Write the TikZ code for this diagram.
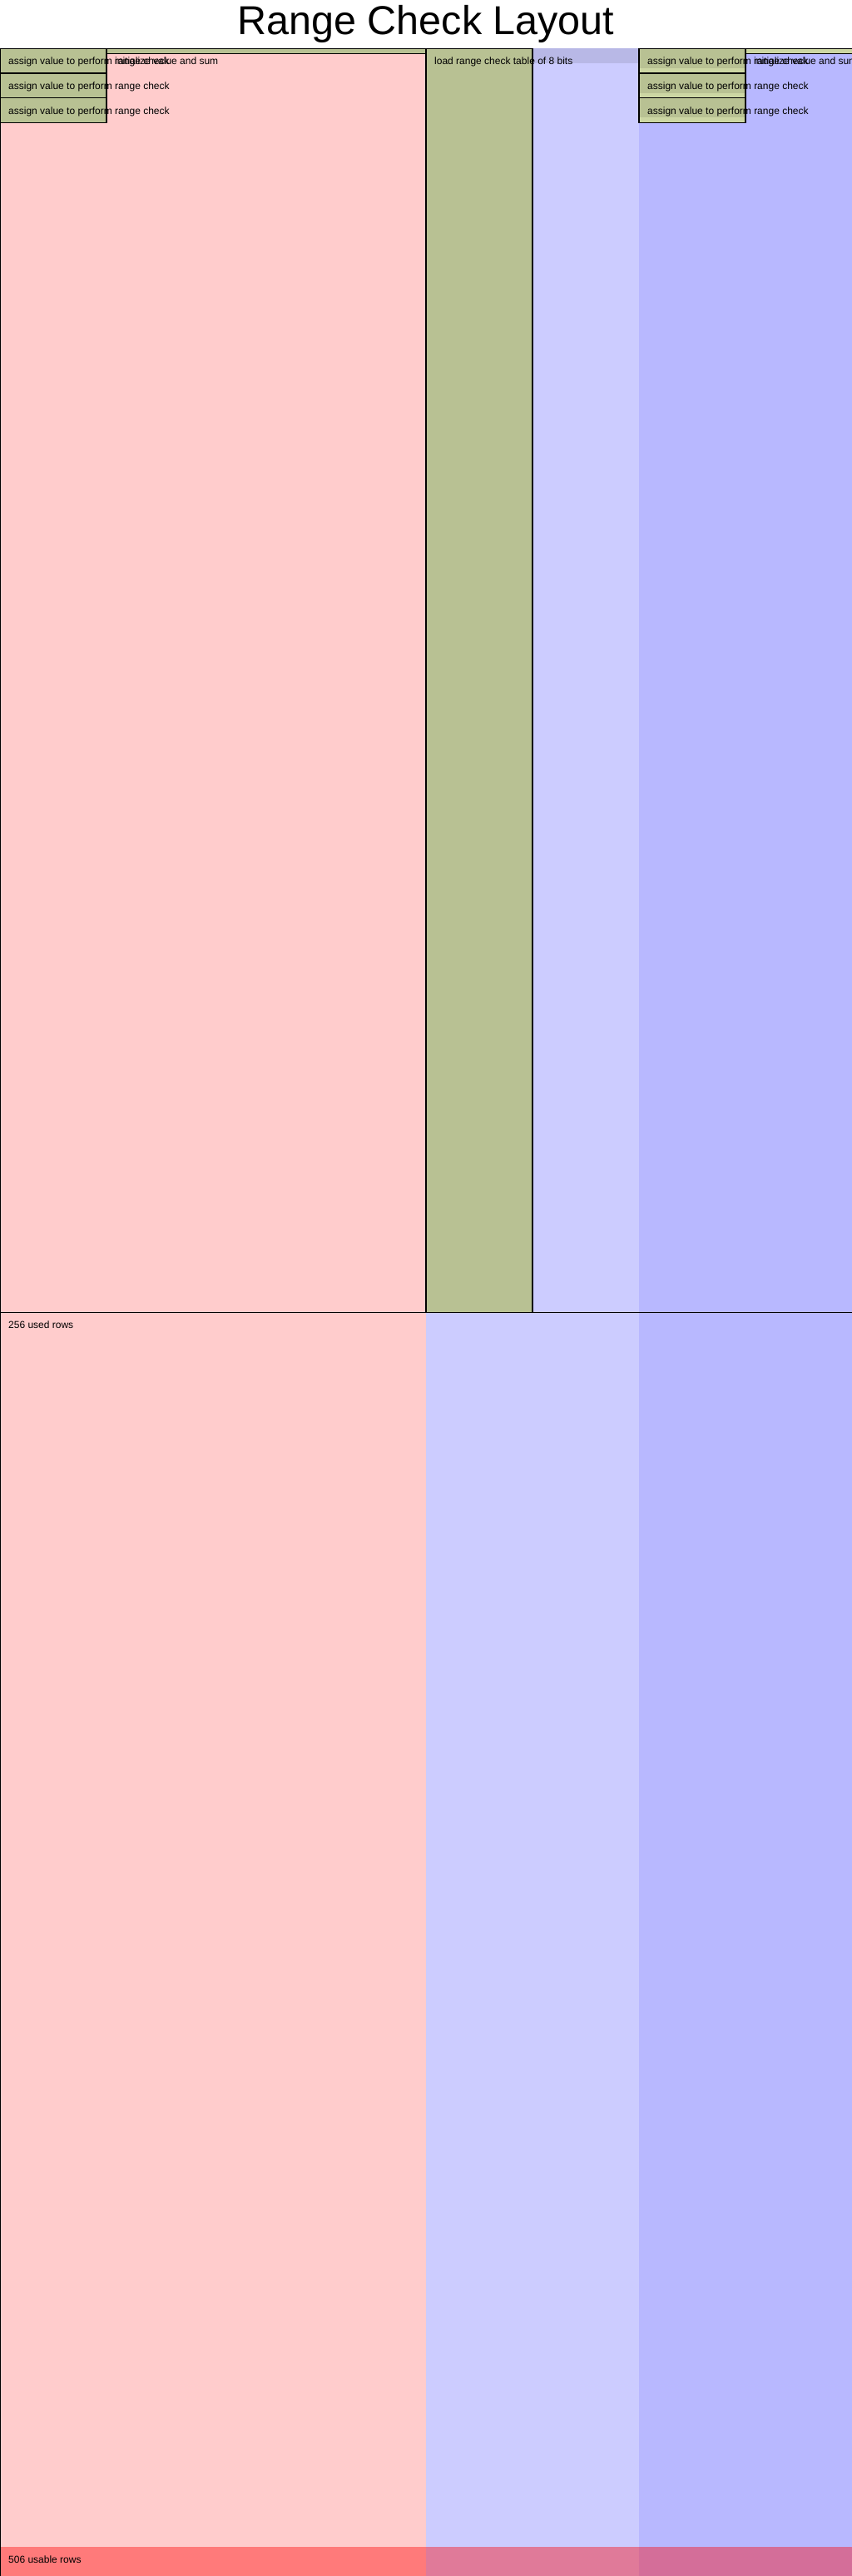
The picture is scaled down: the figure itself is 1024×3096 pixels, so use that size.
\documentclass[tikz,border=0pt]{standalone}
\usepackage{fontspec}
\setmainfont{Liberation Sans}
\definecolor{advbg}{RGB}{255,204,204}
\definecolor{fixbg}{RGB}{204,204,255}
\definecolor{selbg}{RGB}{184,184,255}
\definecolor{advred}{RGB}{255,122,122}
\definecolor{fixred}{RGB}{224,122,153}
\definecolor{selred}{RGB}{212,110,153}
\definecolor{regfill}{RGB}{204,214,163}
\definecolor{cellfill}{RGB}{184,193,147}
\definecolor{fixcell}{RGB}{184,184,230}
\newcommand{\RY}[1]{58.3+5.9336*#1}
\newcommand{\regionfill}[4]{\fill[regfill] ({128*#1},{\RY{#3}}) rectangle ({128*#2},{\RY{#4}});}
\newcommand{\cellsfill}[5]{\fill[#5] ({128*#1},{\RY{#3}}) rectangle ({128*#2},{\RY{#4}});}
\newcommand{\regionborder}[4]{\draw[frame] ({128*#1},{\RY{#3}}) rectangle ({128*#2},{\RY{#4}});}
\tikzset{
  frame/.style={draw=black, line width=1.2pt},
  lbl/.style={anchor=base west, inner sep=0pt, font=\fontsize{12}{14}\selectfont},
  ttl/.style={anchor=base, inner sep=0pt, font=\fontsize{48.5}{56}\selectfont}
}
\begin{document}
\begin{tikzpicture}[x=1pt,y=-1pt]
\useasboundingbox (0,0) rectangle (1024,3096);
\clip (0,0) rectangle (1024,3096);
% title
\node[ttl] (title) at (512,42) {Range Check Layout};
% column backgrounds
\fill[advbg] (0,58.3) rectangle (512,3096);
\fill[fixbg] (512,58.3) rectangle (768,3096);
\fill[selbg] (768,58.3) rectangle (1024,3096);
% unusable rows
\fill[advred] (0,{\RY{506}}) rectangle (512,3096);
\fill[fixred] (512,{\RY{506}}) rectangle (768,3096);
\fill[selred] (768,{\RY{506}}) rectangle (1024,3096);
% outer border (right and bottom edges fall outside the picture)
\draw[frame] (0.6,58.3) rectangle (1026,3098);
% regions
\regionfill{0}{1}{0}{5}
\regionfill{6}{7}{0}{5}
\regionfill{0}{1}{5}{10}
\regionfill{6}{7}{5}{10}
\regionfill{0}{1}{10}{15}
\regionfill{6}{7}{10}{15}
\regionfill{1}{4}{0}{1}
\regionfill{7}{8.02}{0}{1}
\regionfill{4}{5}{0}{256}
% assigned cells
\cellsfill{0}{1}{0}{15}{cellfill}
\cellsfill{1}{4}{0}{1}{cellfill}
\cellsfill{4}{5}{0}{256}{cellfill}
\cellsfill{6}{7}{0}{4}{cellfill}
\cellsfill{6}{7}{5}{9}{cellfill}
\cellsfill{6}{7}{10}{14}{cellfill}
\cellsfill{5}{6}{0}{3}{fixcell}
% region borders
\regionborder{0.005}{1}{0}{5}
\regionborder{6}{7}{0}{5}
\regionborder{0.005}{1}{5}{10}
\regionborder{6}{7}{5}{10}
\regionborder{0.005}{1}{10}{15}
\regionborder{6}{7}{10}{15}
\regionborder{1}{4}{0}{1}
\regionborder{7}{8.02}{0}{1}
\regionborder{4}{5}{0}{256}
% used rows line
\coordinate (usedL) at (0,{\RY{256}});
\coordinate (usedR) at (1024,{\RY{256}});
\draw[frame] (usedL) -- (usedR);
% labels
\node[lbl] (a1) at (10,{\RY{0}+19.5}) {assign value to perform range check};
\node[lbl] (a2) at (778,{\RY{0}+19.5}) {assign value to perform range check};
\node[lbl] (a3) at (10,{\RY{5}+19.5}) {assign value to perform range check};
\node[lbl] (a4) at (778,{\RY{5}+19.5}) {assign value to perform range check};
\node[lbl] (a5) at (10,{\RY{10}+19.5}) {assign value to perform range check};
\node[lbl] (a6) at (778,{\RY{10}+19.5}) {assign value to perform range check};
\node[lbl] (i1) at (138,{\RY{0}+19.5}) {initialize value and sum};
\node[lbl] (i2) at (906,{\RY{0}+19.5}) {initialize value and sum};
\node[lbl] (t1) at (522,{\RY{0}+19.5}) {load range check table of 8 bits};
\node[lbl] (u1) at (10,{\RY{256}+19.5}) {256 used rows};
\node[lbl] (u2) at (10,{\RY{506}+19.5}) {506 usable rows};
\end{tikzpicture}
\end{document}
